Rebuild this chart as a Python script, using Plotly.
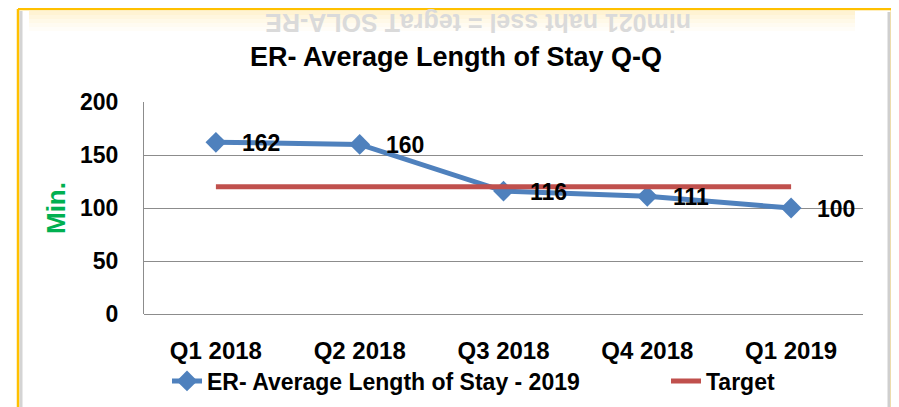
import plotly.graph_objects as go

# ---- data ----
categories = ["Q1 2018", "Q2 2018", "Q3 2018", "Q4 2018", "Q1 2019"]
alos_2019 = [162, 160, 116, 111, 100]
target = [120, 120, 120, 120, 120]
y_ticks = [0, 50, 100, 150, 200]

series_name = "ER- Average Length of Stay - 2019"
target_name = "Target"
title_text = "ER- Average Length of Stay Q-Q"
y_title = "Min."
header_text = "ER-ALOS Target = less than 120min"

# page body has an 8px margin: work in screen pixels and convert
OFF = 8
W, H = 899 - OFF, 407 - OFF
PLOT_L, PLOT_R, PLOT_T, PLOT_B = 144, 863, 102, 314   # screen px
L = PLOT_L - OFF
T = PLOT_T - OFF
R = W - (PLOT_R - OFF)
B = H - (PLOT_B - OFF)
PW, PH = PLOT_R - PLOT_L, PLOT_B - PLOT_T


def px(x):
    return (x - PLOT_L) / PW


def py(y):
    return (PLOT_B - y) / PH


FONT = "Liberation Sans, Arial, sans-serif"
BLUE = "#4F81BD"
RED = "#C0504D"
GRID = "#8C8C8C"

fig = go.Figure()
fig.add_trace(go.Scatter(
    x=categories, y=alos_2019, name=series_name, mode="lines+markers",
    line=dict(color=BLUE, width=5),
    marker=dict(symbol="diamond", size=16, color=BLUE),
    legend="legend",
))
fig.add_trace(go.Scatter(
    x=categories, y=target, name=target_name, mode="lines",
    line=dict(color=RED, width=5),
    legend="legend2",
))

annotations = []
for c, v in zip(categories, alos_2019):
    annotations.append(dict(
        x=c, y=v, xref="x", yref="y", text=str(v), showarrow=False,
        xanchor="left", yanchor="middle", xshift=24, yshift=-1,
        font=dict(family=FONT, size=23, color="black", weight="bold"),
    ))

# faint reflected header text (upside down)
annotations.append(dict(
    x=px(478), y=py(23), xref="paper", yref="paper",
    text=header_text[::-1], textangle=180, showarrow=False,
    xanchor="center", yanchor="middle",
    font=dict(family=FONT, size=25, color="#DADADA", weight="bold"),
))

shapes = []
# yellow header band
band = [(0, 9, "#FFF1C6"), (11, 15, "#FFF3D3"), (15, 19, "#FFF6DE"),
        (19, 23, "#FFF9E8"), (23, 27, "#FFFBF1"), (27, 31, "#FFFDF8")]
for y0, y1, col in band:
    shapes.append(dict(type="rect", xref="paper", yref="paper",
                       x0=px(29), x1=px(855), y0=py(y0), y1=py(y1),
                       fillcolor=col, line=dict(width=0), layer="below"))
# frame shadows
shapes.append(dict(type="line", xref="paper", yref="paper",
                   x0=px(21), x1=px(21), y0=py(11), y1=py(420),
                   line=dict(color="#D4D4D4", width=3), layer="below"))
shapes.append(dict(type="line", xref="paper", yref="paper",
                   x0=px(889), x1=px(889), y0=py(12), y1=py(420),
                   line=dict(color="#CFCFCF", width=3), layer="below"))
# orange frame
for (x0, y0, x1, y1) in [(18, 9, 18, 420), (18, 9, 892, 9), (892, 9, 892, 420)]:
    shapes.append(dict(type="line", xref="paper", yref="paper",
                       x0=px(x0), x1=px(x1), y0=py(y0), y1=py(y1),
                       line=dict(color="#FFC000", width=2.5), layer="below"))

legend_font = dict(family=FONT, size=23, color="black", weight="bold")

fig.update_layout(
    width=W, height=H,
    margin=dict(l=L, r=R, t=T, b=B, autoexpand=False),
    paper_bgcolor="white", plot_bgcolor="white",
    title=dict(text=title_text, x=(456 - OFF) / W, xanchor="center",
               y=1 - (57 - OFF) / H, yanchor="middle",
               font=dict(family=FONT, size=27, color="black", weight="bold")),
    xaxis=dict(
        type="category", range=[-0.5, 4.5], showgrid=False, zeroline=False,
        showline=False, ticks="", ticklabelstandoff=20,
        tickfont=dict(family=FONT, size=24, color="black", weight="bold"),
    ),
    yaxis=dict(
        range=[0, 200], tickvals=y_ticks, showgrid=True, gridcolor=GRID, gridwidth=1.3,
        zeroline=True, zerolinecolor=GRID, zerolinewidth=1.3,
        showline=True, linecolor=GRID, linewidth=1.3, ticks="",
        ticklabelstandoff=20,
        tickfont=dict(family=FONT, size=23, color="black", weight="bold"),
        title=dict(text=y_title, standoff=6,
                   font=dict(family=FONT, size=26, color="#00B050", weight="bold")),
    ),
    legend=dict(
        orientation="h", x=px(167), xanchor="left", y=py(381), yanchor="middle",
        font=legend_font, bgcolor="rgba(0,0,0,0)",
    ),
    legend2=dict(
        orientation="h", x=px(666), xanchor="left", y=py(381), yanchor="middle",
        font=legend_font, bgcolor="rgba(0,0,0,0)",
    ),
    annotations=annotations,
    shapes=shapes,
    showlegend=True,
)

fig.write_html("out.html")
